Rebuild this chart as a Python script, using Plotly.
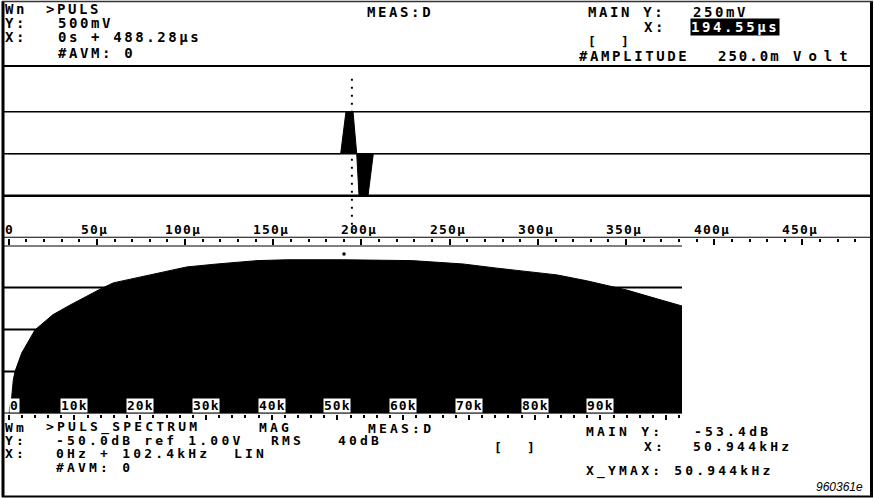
import plotly.graph_objects as go

W, H = 874, 499

# ---- time-domain pulse (volts vs microseconds) ----
time_us = [0.0, 188.2, 191.2, 195.2, 197.3, 198.6, 203.7, 206.7, 488.28]
pulse_v = [0.0, 0.0, 0.25, 0.25, 0.0, -0.25, -0.25, 0.0, 0.0]
time_tick_vals = [0, 50, 100, 150, 200, 250, 300, 350, 400, 450]
time_tick_text = ["0", "50µ", "100µ", "150µ", "200µ", "250µ", "300µ", "350µ", "400µ", "450µ"]
cursor_time_us = 194.55
cursor_volt = 0.25

# ---- magnitude spectrum (dB re 1 V RMS vs kHz) ----
freq_khz = [0, 0.46, 0.7, 0.96, 1.98, 4.0, 6.7, 9.3, 13.9, 15.9, 21.5, 27.1, 31.7,
            37.8, 42.3, 50.944, 61.3, 65.6, 69.1, 74.3, 79.3, 83.4, 87.9, 91.5,
            94.0, 98.6, 102.4]
mag_db = [-90, -86, -82, -80, -75.6, -70.1, -66.5, -64.2, -60.4, -58.9, -57.0,
          -55.1, -54.4, -53.6, -53.4, -53.4, -53.6, -54.1, -54.4, -55.4, -56.3,
          -57.0, -58.4, -59.8, -60.6, -62.7, -64.4]
freq_tick_vals = [0, 10, 20, 30, 40, 50, 60, 70, 80, 90]
freq_tick_text = ["0", "10k", "20k", "30k", "40k", "50k", "60k", "70k", "80k", "90k"]
cursor_freq_khz = 50.944
cursor_db = -53.4
db_ref_top = -50.0
db_range = 40.0

MONO = "DejaVu Sans Mono"


def px(x):
    return x / W


def py(y):
    return 1 - y / H


def spaced(text, ls=2.6):
    t = text.replace(" ", "\u00a0")
    return f'<span style="letter-spacing:{ls}px">{t}</span>'


fig = go.Figure()

# time-domain waveform filled to 0 V
fig.add_trace(go.Scatter(x=time_us, y=pulse_v, mode="lines", fill="tozeroy",
                         fillcolor="black", line=dict(color="black", width=1),
                         xaxis="x", yaxis="y", hoverinfo="skip"))
# dotted cursor
fig.add_trace(go.Scatter(x=[cursor_time_us, cursor_time_us], y=[-0.47, 0.47],
                         mode="lines", line=dict(color="black", width=2, dash="2px,6px"),
                         xaxis="x", yaxis="y", hoverinfo="skip"))

# spectrum filled down to the bottom of the dB range
bottom_db = db_ref_top - db_range
fig.add_trace(go.Scatter(x=[freq_khz[0], freq_khz[-1]], y=[bottom_db, bottom_db],
                         mode="lines", line=dict(width=0, color="black"),
                         xaxis="x2", yaxis="y2", hoverinfo="skip"))
fig.add_trace(go.Scatter(x=freq_khz, y=mag_db, mode="lines", fill="tonexty",
                         fillcolor="black", line=dict(color="black", width=1),
                         xaxis="x2", yaxis="y2", hoverinfo="skip"))

shapes = []
# outer frame
shapes.append(dict(type="line", xref="paper", yref="paper", x0=px(3), x1=px(3), y0=py(1), y1=py(497),
                   line=dict(color="black", width=3)))
shapes.append(dict(type="line", xref="paper", yref="paper", x0=px(871.5), x1=px(871.5), y0=py(1), y1=py(497),
                   line=dict(color="black", width=3)))
shapes.append(dict(type="line", xref="paper", yref="paper", x0=px(2), x1=px(873), y0=py(1.5), y1=py(1.5),
                   line=dict(color="#333", width=1.5)))
shapes.append(dict(type="line", xref="paper", yref="paper", x0=px(2), x1=px(873), y0=py(496.5), y1=py(496.5),
                   line=dict(color="black", width=2)))
# header separator
shapes.append(dict(type="line", xref="paper", yref="paper", x0=px(3), x1=px(871), y0=py(66), y1=py(66),
                   line=dict(color="black", width=2)))
# time-domain graticule
for v, wdt in [(0.25, 1.5), (0.0, 1.5), (-0.25, 2.5)]:
    shapes.append(dict(type="line", xref="paper", yref="y", x0=px(4), x1=px(871), y0=v, y1=v,
                       line=dict(color="black", width=wdt), layer="below"))
# time axis baseline across the full width
shapes.append(dict(type="line", xref="paper", yref="y", x0=px(4), x1=px(871), y0=-0.5, y1=-0.5,
                   line=dict(color="black", width=2)))
# top edge of the spectrum window
shapes.append(dict(type="line", xref="paper", yref="y2", x0=px(4), x1=px(682), y0=db_ref_top, y1=db_ref_top,
                   line=dict(color="black", width=2)))
# spectrum graticule (visible above the fill)
for v in [-60, -70, -80]:
    shapes.append(dict(type="line", xref="paper", yref="y2", x0=px(4), x1=px(682), y0=v, y1=v,
                       line=dict(color="black", width=2), layer="below"))
# bottom edge of spectrum window
shapes.append(dict(type="line", xref="paper", yref="y2", x0=px(4), x1=px(682), y0=bottom_db, y1=bottom_db,
                   line=dict(color="black", width=2)))

ann = []


def txt(text, x, y, size=14, ls=2.6, color="black", bg=None, bold=True, family=MONO, italic=False):
    s = spaced(text, ls)
    if bold:
        s = f"<b>{s}</b>"
    if italic:
        s = f"<i>{s}</i>"
    a = dict(text=s, x=px(x), y=py(y), xref="paper", yref="paper", xanchor="left", yanchor="middle",
             showarrow=False, font=dict(family=family, size=size, color=color), borderpad=0)
    if bg:
        a["bgcolor"] = bg
    ann.append(a)


# upper header
txt("Wn", 4, 9)
txt(">PULS", 45, 9)
txt("MEAS:D", 366, 12)
txt("Y:", 4, 23)
txt("500mV", 57, 23)
txt("X:", 4, 37)
txt("0s + 488.28µs", 57, 37)
txt("#AVM: 0", 57, 53)
txt("MAIN Y:", 587, 12)
txt(f"{cursor_volt * 1000:.0f}mV", 692, 12)
txt("X:", 643, 27)
txt(f"{cursor_time_us:.2f}µs", 690, 27, color="white", bg="black")
txt("[  ]", 587, 41.5, size=13, ls=3.2)
txt("#AMPLITUDE", 578, 56)
txt(f"{cursor_volt * 1000:.1f}m", 717, 56, ls=2.0)
txt("Volt", 792, 56, ls=7.0)

# lower header
B = dict(size=13, ls=3.2)
txt("Wm", 4, 427, **B)
txt(">PULS_SPECTRUM", 45, 427, **B)
txt("MAG", 258, 427, **B)
txt("MEAS:D", 367, 428, **B)
txt("Y:", 4, 440, **B)
txt(f"{db_ref_top:.1f}dB ref 1.00V", 55, 440, **B)
txt("RMS", 270, 440, **B)
txt(f"{db_range:.0f}dB", 337, 440, **B)
txt("X:", 4, 453.5, **B)
txt("0Hz + 102.4kHz", 55, 453.5, **B)
txt("LIN", 233, 453.5, **B)
txt("#AVM: 0", 55, 467, **B)
txt("MAIN Y:", 585, 431, **B)
txt(f"{cursor_db:.1f}dB", 693, 431, **B)
txt("[  ]", 493, 447, **B)
txt("X:", 643, 446, **B)
txt(f"{cursor_freq_khz:.3f}kHz", 692, 446, **B)
txt(f"X_YMAX: {cursor_freq_khz:.3f}kHz", 585, 471, **B)
txt("960361e", 815, 487, size=12, ls=0, bold=False, family="Liberation Sans", italic=True)

# time labels sitting just above the time axis
for t, lab in zip(time_tick_vals, time_tick_text):
    ann.append(dict(text=f"<b>{spaced(lab, 1.2)}</b>", x=t, y=-0.5, xref="x", yref="y",
                    xanchor="left" if t == 0 else "center", xshift=-5 if t == 0 else -2,
                    yanchor="bottom", yshift=1, showarrow=False, borderpad=0, height=13,
                    font=dict(family=MONO, size=13, color="black")))

# frequency labels in white boxes at the bottom of the spectrum
for f, lab in zip(freq_tick_vals, freq_tick_text):
    ann.append(dict(text=f"<b>{spaced(lab, 1)}</b>", x=f, y=bottom_db, xref="x2", yref="y2",
                    xanchor="left" if f == 0 else "center", yanchor="bottom", yshift=1,
                    showarrow=False, bgcolor="white", borderpad=0, height=13,
                    font=dict(family=MONO, size=13, color="black")))

# spectrum cursor marker just above the trace
ann.append(dict(text="", x=cursor_freq_khz, y=cursor_db, xref="x2", yref="y2", showarrow=False,
                bgcolor="black", width=2, height=2, yshift=6, borderpad=0))

fig.update_layout(
    width=W, height=H, autosize=False,
    margin=dict(l=0, r=0, t=0, b=0, pad=0),
    paper_bgcolor="white", plot_bgcolor="white",
    showlegend=False,
    shapes=shapes, annotations=ann,
    xaxis=dict(domain=[px(8.7), px(870)], range=[0, 488.28], anchor="y",
               showgrid=False, zeroline=False, showline=False, showticklabels=False,
               ticks="outside", ticklen=6, tickwidth=2, tickcolor="black",
               tickvals=time_tick_vals,
               minor=dict(dtick=10, tick0=0, ticks="outside", ticklen=3, tickwidth=2, tickcolor="black")),
    yaxis=dict(domain=[py(237.7), py(69.7)], range=[-0.5, 0.5], anchor="x",
               showgrid=False, zeroline=False, showline=False, showticklabels=False, ticks=""),
    xaxis2=dict(domain=[px(8.7), px(682)], range=[0, 102.4], anchor="y2",
                showgrid=False, zeroline=False, showline=False, showticklabels=False,
                ticks="outside", ticklen=5, tickwidth=2, tickcolor="black", dtick=10, tick0=0,
                minor=dict(dtick=2, tick0=0, ticks="outside", ticklen=3, tickwidth=2, tickcolor="black")),
    yaxis2=dict(domain=[py(413.5), py(245.5)], range=[bottom_db, db_ref_top], anchor="x2",
                showgrid=False, zeroline=False, showline=False, showticklabels=False, ticks=""),
)

fig.write_html("out.html")
